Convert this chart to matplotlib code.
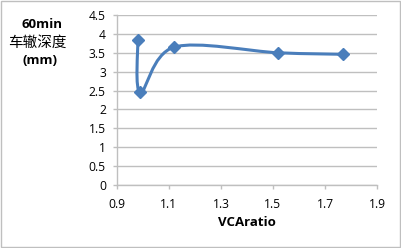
import matplotlib
matplotlib.use('Agg')
import matplotlib.pyplot as plt
from matplotlib.path import Path
from matplotlib.patches import PathPatch
import numpy as np

plt.rcParams['font.family'] = ['Open Sans', 'Noto Sans CJK SC', 'DejaVu Sans']

# 数据
vca_ratio = [0.98, 0.99, 1.12, 1.52, 1.77]
rut_depth = [3.83, 2.45, 3.65, 3.50, 3.46]
x_ticks = [0.9, 1.1, 1.3, 1.5, 1.7, 1.9]
y_ticks = [0, 0.5, 1, 1.5, 2, 2.5, 3, 3.5, 4, 4.5]
ylabel_lines = ['60min', '车辙深度', '(mm)']
xlabel = 'VCAratio'

blue = '#4A7EBB'
grid_c = '#BFBFBF'

fig = plt.figure(figsize=(4.01, 2.48), dpi=100)
ax = fig.add_axes([117 / 401, 1 - 185 / 248, 260 / 401, 170 / 248])
ax.set_xlim(0.9, 1.9)
ax.set_ylim(0, 4.5)
ax.set_xticks(x_ticks)
ax.set_yticks(y_ticks)
ax.set_xticklabels([f'{v:g}' for v in x_ticks])
ax.set_yticklabels([f'{v:g}' for v in y_ticks])
ax.grid(axis='y', color=grid_c, linewidth=1)
ax.set_axisbelow(True)
for s in ['top', 'right']:
    ax.spines[s].set_visible(False)
for s in ['left', 'bottom']:
    ax.spines[s].set_color(grid_c)
    ax.spines[s].set_linewidth(1)
ax.tick_params(colors=grid_c, labelcolor='#000000', labelsize=8.7, length=3, width=1)
ax.tick_params(axis='x', pad=6)
ax.tick_params(axis='y', pad=5)

# 平滑曲线（类似Excel的平滑线）
pts = ax.transData.transform(np.column_stack([vca_ratio, rut_depth]))
n = len(pts)
verts = [pts[0]]
codes = [Path.MOVETO]
for i in range(n - 1):
    p0 = pts[max(i - 1, 0)]
    p1 = pts[i]
    p2 = pts[i + 1]
    p3 = pts[min(i + 2, n - 1)]
    c1 = p1 + (p2 - p0) / 6
    c2 = p2 - (p3 - p1) / 6
    verts += [c1, c2, p2]
    codes += [Path.CURVE4] * 3
verts = ax.transData.inverted().transform(np.array(verts))
ax.add_patch(PathPatch(Path(verts, codes), facecolor='none', edgecolor=blue,
                       linewidth=2.2, capstyle='round', joinstyle='round', zorder=3))
ax.plot(vca_ratio, rut_depth, linestyle='none', marker='D', markersize=6,
        color=blue, zorder=4)

fig.text(42 / 401, 1 - 25 / 248, ylabel_lines[0], ha='center', va='center',
         fontsize=9.5, fontweight='bold')
fig.text(37 / 401, 1 - 43 / 248, ylabel_lines[1], ha='center', va='center',
         fontsize=10.5, family=['Noto Sans CJK SC'])
fig.text(40 / 401, 1 - 61 / 248, ylabel_lines[2], ha='center', va='center',
         fontsize=9.5, fontweight='bold')
fig.text(247 / 401, 1 - 222 / 248, xlabel, ha='center', va='center',
         fontsize=9.5, fontweight='bold')

# 外框
fig.patches.append(plt.Rectangle((0.002, 0.003), 0.995, 0.993, transform=fig.transFigure,
                                 fill=False, edgecolor='#BFBFBF', linewidth=1))

plt.savefig('out.png', dpi=100)
